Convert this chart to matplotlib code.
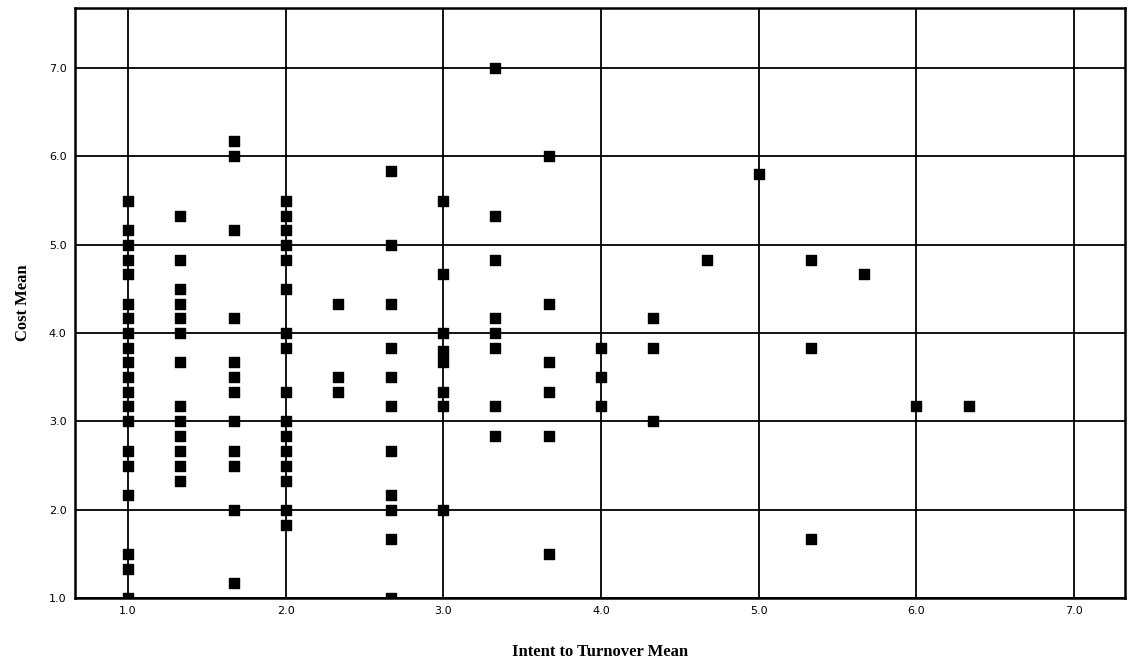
import matplotlib
matplotlib.use('Agg')
import matplotlib.pyplot as plt

# Intent to Turnover Mean (x) -> Cost Mean values (y) in that column
turnover_levels = [1.0, 1.33, 1.67, 2.0, 2.33, 2.67, 3.0, 3.33, 3.67, 4.0,
                   4.33, 4.67, 5.0, 5.33, 5.67, 6.0, 6.33]
cost_by_level = [
    [5.5, 5.17, 5.0, 4.83, 4.67, 4.33, 4.17, 4.0, 3.83, 3.67, 3.5, 3.33,
     3.17, 3.0, 2.67, 2.5, 2.17, 1.5, 1.33, 1.0],
    [5.33, 4.83, 4.5, 4.33, 4.17, 4.0, 3.67, 3.17, 3.0, 2.83, 2.67, 2.5, 2.33],
    [6.17, 6.0, 5.17, 4.17, 3.67, 3.5, 3.33, 3.0, 2.67, 2.5, 2.0, 1.17],
    [5.5, 5.33, 5.17, 5.0, 4.83, 4.5, 4.0, 3.83, 3.33, 3.0, 2.83, 2.67,
     2.5, 2.33, 2.0, 1.83],
    [4.33, 3.5, 3.33],
    [5.83, 5.0, 4.33, 3.83, 3.5, 3.17, 2.67, 2.17, 2.0, 1.67, 1.0],
    [5.5, 4.67, 4.0, 3.8, 3.67, 3.33, 3.17, 2.0],
    [7.0, 5.33, 4.83, 4.17, 4.0, 3.83, 3.17, 2.83],
    [6.0, 4.33, 3.67, 3.33, 2.83, 1.5],
    [3.83, 3.5, 3.17],
    [4.17, 3.83, 3.0],
    [4.83],
    [5.8],
    [4.83, 3.83, 1.67],
    [4.67],
    [3.17],
    [3.17],
]
ticks = [1.0, 2.0, 3.0, 4.0, 5.0, 6.0, 7.0]

x_vals = []
y_vals = []
for lvl, costs in zip(turnover_levels, cost_by_level):
    for c in costs:
        x_vals.append(lvl)
        y_vals.append(c)

fig = plt.figure(figsize=(11.28, 6.67), dpi=100)
ax = fig.add_axes([0.0665, 0.1034, 0.9305, 0.8846])

ax.set_axisbelow(True)
ax.grid(True, color='black', linewidth=1.3)
ax.scatter(x_vals, y_vals, marker='s', s=45, color='black', zorder=3)

ax.set_xlim(0.664, 7.32)
ax.set_ylim(1.0, 7.68)
ax.set_xticks(ticks)
ax.set_yticks(ticks)
ax.set_xticklabels(['{:.1f}'.format(t) for t in ticks])
ax.set_yticklabels(['{:.1f}'.format(t) for t in ticks])
ax.tick_params(length=0, labelsize=8, pad=6)

for sp in ax.spines.values():
    sp.set_linewidth(1.8)
    sp.set_color('black')

ax.set_xlabel('Intent to Turnover Mean', fontsize=12, fontweight='bold',
              family='Liberation Serif', labelpad=20)
ax.set_ylabel('Cost Mean', fontsize=12, fontweight='bold',
              family='Liberation Serif', labelpad=13)

plt.savefig('out.png', dpi=100)
plt.close()
